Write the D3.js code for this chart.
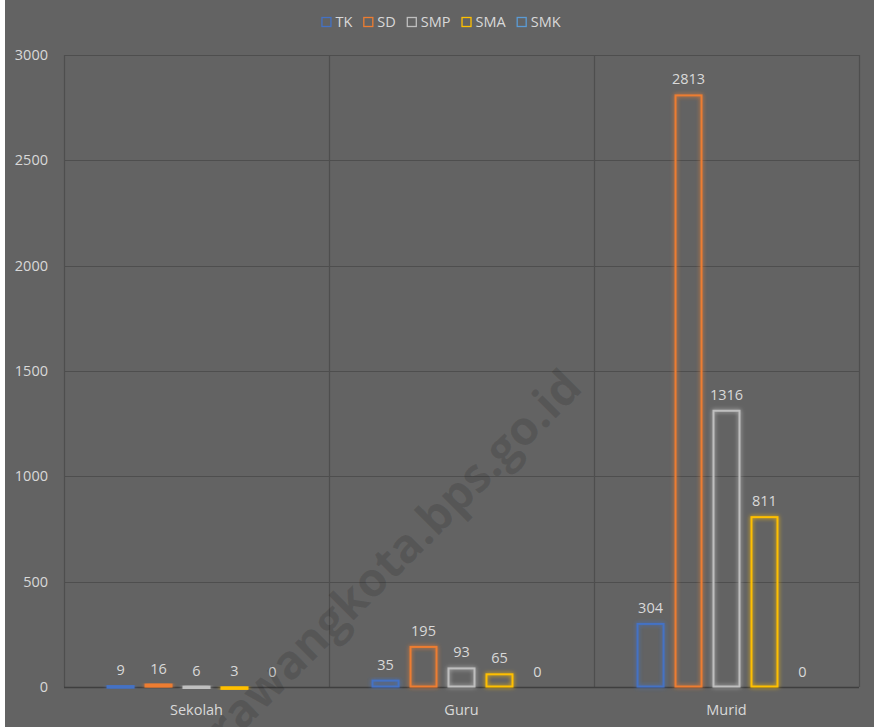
<!DOCTYPE html>
<html>
<head>
<meta charset="utf-8">
<script src="https://cdn.jsdelivr.net/npm/d3@7"></script>
<style>
  body { margin: 0; background: #fff; }
  text { font-family: "Open Sans", "Liberation Sans", sans-serif; }
</style>
</head>
<body>
<div id="chart"></div>
<script>
// data
var categories = ["Sekolah", "Guru", "Murid"];
var series = ["TK", "SD", "SMP", "SMA", "SMK"];
var seriesColors = ["#4472C4", "#ED7D31", "#BFBFBF", "#FFC000", "#5B9BD5"];
var valTK  = [9, 35, 304];
var valSD  = [16, 195, 2813];
var valSMP = [6, 93, 1316];
var valSMA = [3, 65, 811];
var valSMK = [0, 0, 0];
var yTicks = [0, 500, 1000, 1500, 2000, 2500, 3000];

var values = [valTK, valSD, valSMP, valSMA, valSMK];

var width = 876, height = 727;
var plot = {left: 64, right: 859, top: 55, bottom: 687};
var textCol = "#d9d9d9";
var fs = 14.5;

var svg = d3.select("#chart").append("svg")
  .attr("width", width)
  .attr("height", height);

svg.append("rect")
  .attr("x", 5).attr("y", 0)
  .attr("width", 869).attr("height", height)
  .attr("fill", "#636363");

// glow filter for the bar outlines
var defs = svg.append("defs");
var f = defs.append("filter").attr("id", "glow")
  .attr("x", "-50%").attr("y", "-50%").attr("width", "200%").attr("height", "200%");
f.append("feGaussianBlur").attr("in", "SourceGraphic").attr("stdDeviation", 2.2).attr("result", "blur");
var m = f.append("feMerge");
m.append("feMergeNode").attr("in", "blur");
m.append("feMergeNode").attr("in", "SourceGraphic");

var x0 = d3.scaleBand()
  .domain(categories)
  .range([plot.left, plot.right]);

var x1 = d3.scaleBand()
  .domain(series)
  .range([0, x0.bandwidth()])
  .paddingInner(0.263)
  .paddingOuter(1.12);

var y = d3.scaleLinear()
  .domain([0, 3000])
  .range([plot.bottom, plot.top]);

var color = d3.scaleOrdinal().domain(series).range(seriesColors);

// gridlines
svg.append("g").selectAll("line")
  .data(yTicks)
  .enter().append("line")
  .attr("x1", plot.left).attr("x2", plot.right)
  .attr("y1", function(d) { return Math.round(y(d)) + 0.5; })
  .attr("y2", function(d) { return Math.round(y(d)) + 0.5; })
  .attr("stroke", "#4e4e4e")
  .attr("stroke-width", 1.2);

// vertical category dividers + plot border
var xEdges = categories.map(function(c) { return x0(c); }).concat([plot.right]);
svg.append("g").selectAll("line")
  .data(xEdges)
  .enter().append("line")
  .attr("x1", function(d) { return Math.round(d) + 0.5; })
  .attr("x2", function(d) { return Math.round(d) + 0.5; })
  .attr("y1", plot.top).attr("y2", plot.bottom)
  .attr("stroke", "#4e4e4e")
  .attr("stroke-width", 1.2);

// bottom axis line
svg.append("line")
  .attr("x1", plot.left).attr("x2", plot.right)
  .attr("y1", plot.bottom + 0.5).attr("y2", plot.bottom + 0.5)
  .attr("stroke", "#3f3f3f")
  .attr("stroke-width", 1.3);

// y tick labels
svg.append("g").selectAll("text")
  .data(yTicks)
  .enter().append("text")
  .attr("x", 48)
  .attr("y", function(d) { return y(d) + 5; })
  .attr("text-anchor", "end")
  .attr("fill", textCol)
  .attr("font-size", fs)
  .text(function(d) { return d; });

// category labels
svg.append("g").selectAll("text")
  .data(categories)
  .enter().append("text")
  .attr("x", function(d) { return x0(d) + x0.bandwidth() / 2; })
  .attr("y", 715)
  .attr("text-anchor", "middle")
  .attr("fill", textCol)
  .attr("font-size", fs)
  .text(function(d) { return d; });

// bars
var rows = [];
categories.forEach(function(c, ci) {
  series.forEach(function(s, si) {
    rows.push({cat: c, ser: s, val: values[si][ci]});
  });
});

var barG = svg.append("g");
barG.selectAll("rect")
  .data(rows.filter(function(d) { return d.val > 0; }))
  .enter().append("rect")
  .attr("x", function(d) { return x0(d.cat) + x1(d.ser) + 1; })
  .attr("y", function(d) { return y(d.val) + 1; })
  .attr("width", x1.bandwidth() - 2)
  .attr("height", function(d) { return Math.max(plot.bottom - y(d.val) - 1.5, 1.5); })
  .attr("fill", "none")
  .attr("stroke", function(d) { return color(d.ser); })
  .attr("stroke-width", 2)
  .attr("filter", "url(#glow)");

// value labels
svg.append("g").selectAll("text")
  .data(rows)
  .enter().append("text")
  .attr("x", function(d) { return x0(d.cat) + x1(d.ser) + x1.bandwidth() / 2; })
  .attr("y", function(d) { return y(d.val) - 10; })
  .attr("text-anchor", "middle")
  .attr("fill", textCol)
  .attr("font-size", fs)
  .text(function(d) { return d.val; });

// legend
var legend = svg.append("g");
var lx = 0;
series.forEach(function(s) {
  var item = legend.append("g").attr("transform", "translate(" + lx + ",0)");
  item.append("rect")
    .attr("x", 0.5).attr("y", -4.5)
    .attr("width", 9).attr("height", 9)
    .attr("fill", "none")
    .attr("stroke", color(s))
    .attr("stroke-width", 1.3);
  var t = item.append("text")
    .attr("x", 14).attr("y", 5)
    .attr("fill", textCol)
    .attr("font-size", fs)
    .text(s);
  lx += 14 + t.node().getComputedTextLength() + 11;
});
lx -= 11;
legend.attr("transform", "translate(" + (441 - lx / 2) + ",22)");

// watermark
svg.append("text")
  .attr("transform", "translate(186,788) rotate(-45)")
  .attr("font-family", "Liberation Sans, Arial, sans-serif")
  .attr("font-weight", "bold")
  .attr("font-size", 47)
  .attr("fill", "#000")
  .attr("fill-opacity", 0.12)
  .text("karawangkota.bps.go.id");
</script>
</body>
</html>
